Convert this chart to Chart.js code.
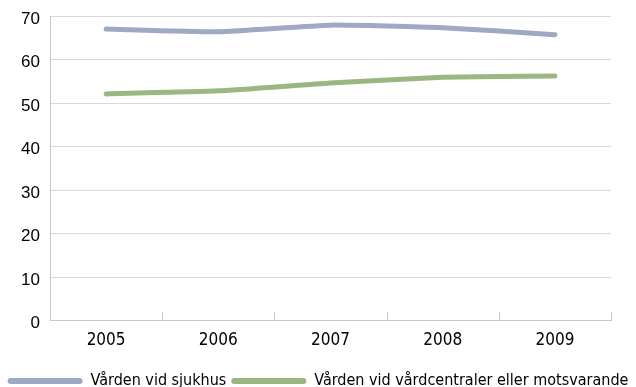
<!DOCTYPE html>
<html>
<head>
<meta charset="utf-8">
<script src="https://cdn.jsdelivr.net/npm/chart.js@4"></script>
<style>
  body { margin: 0; background: #fff; }
</style>
</head>
<body>
<canvas id="chart" width="636" height="387"></canvas>
<script>
const years = ['2005', '2006', '2007', '2008', '2009']
const sjukhus = [67.0, 66.4, 67.9, 67.3, 65.7]
const vardcentral = [52.1, 52.8, 54.6, 55.9, 56.2]
const yTicks = [0, 10, 20, 30, 40, 50, 60, 70]

const narrow = "'Liberation Sans Narrow', 'Arial Narrow', 'DejaVu Sans Condensed', 'Liberation Sans'"

const ctx = document.getElementById('chart').getContext('2d')

Chart.defaults.font.family = 'Liberation Sans'
Chart.defaults.color = '#000'

// small tick marks pointing up from the x axis, between categories
const upTicks = {
    id: 'upTicks',
    afterDraw(chart) {
        const x = chart.scales.x
        const c = chart.ctx
        c.save()
        c.strokeStyle = '#c8c8c8'
        c.lineWidth = 1
        for (let i = 0; i <= years.length; i++) {
            const px = Math.round(x.getPixelForValue(i - 0.5)) + 0.5
            c.beginPath()
            c.moveTo(px, x.top)
            c.lineTo(px, x.top - 9)
            c.stroke()
        }
        c.restore()
    }
}

const chart = new Chart(ctx, {
    type: 'line',
    data: {
        labels: years,
        datasets: [{
            label: 'Vården vid sjukhus',
            data: sjukhus,
            borderColor: '#9fa8c5',
            backgroundColor: '#9fa8c5',
            borderWidth: 5,
            pointRadius: 0,
            tension: 0.15,
            borderCapStyle: 'round',
        }, {
            label: 'Vården vid vårdcentraler eller motsvarande',
            data: vardcentral,
            borderColor: '#9bb682',
            backgroundColor: '#9bb682',
            borderWidth: 5,
            pointRadius: 0,
            tension: 0.15,
            borderCapStyle: 'round',
        }]
    },
    options: {
        responsive: false,
        animation: false,
        layout: { padding: { top: 16, right: 0, left: 0, bottom: -12 } },
        plugins: {
            tooltip: { enabled: false },
            legend: {
                position: 'bottom',
                labels: {
                    boxWidth: 75,
                    boxHeight: 6,
                    padding: 5,
                    font: { family: narrow, size: 16 },
                    generateLabels(ch) {
                        return Chart.defaults.plugins.legend.labels.generateLabels(ch).map(l => {
                            l.lineWidth = 0
                            l.borderRadius = 3
                            return l
                        })
                    }
                }
            }
        },
        scales: {
            x: {
                offset: true,
                grid: { display: false },
                border: { color: '#c8c8c8' },
                ticks: { padding: 2, font: { family: narrow, size: 17 } },
                afterFit(scale) { scale.height += 15 }
            },
            y: {
                min: 0,
                max: 70,
                afterBuildTicks(scale) { scale.ticks = yTicks.map(v => ({ value: v })) },
                afterFit(scale) {
                    scale.width = 50
                    scale.paddingTop = 0
                    scale.paddingBottom = 0
                },
                grid: { color: '#d9d9d9', drawTicks: false },
                border: { color: '#c8c8c8' },
                ticks: { padding: 10, labelOffset: 3, font: { size: 17 } }
            },
            gap: {
                position: 'right',
                grid: { display: false },
                border: { display: false },
                ticks: { display: false },
                afterFit(scale) { scale.width = 25 }
            }
        }
    },
    plugins: [upTicks]
})
</script>
</body>
</html>
